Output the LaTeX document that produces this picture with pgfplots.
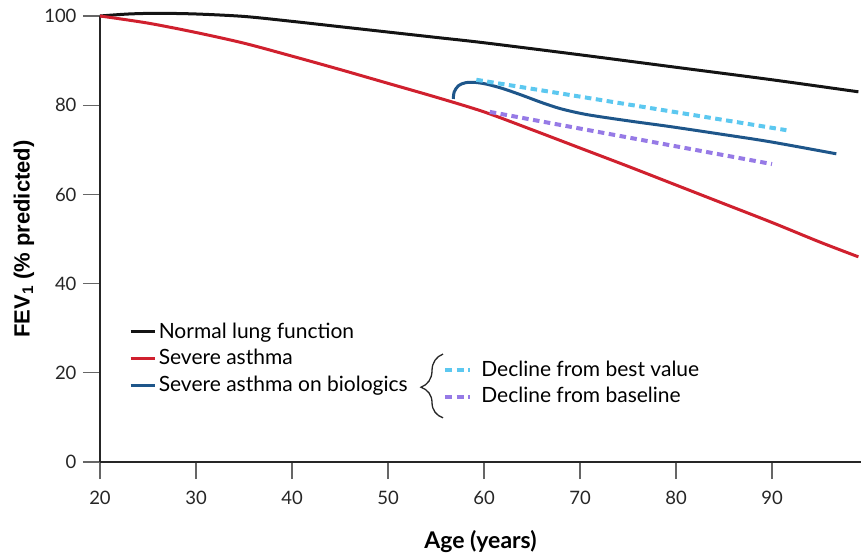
\documentclass[border=0pt]{standalone}
\usepackage{fontspec}
\setmainfont{Lato}
\newfontfamily\ylabfont{Liberation Sans}
\usepackage{pgfplots}
\pgfplotsset{compat=1.18}
\usetikzlibrary{decorations.pathreplacing}

\definecolor{NormalBlack}{RGB}{20,20,20}
\definecolor{AsthmaRed}{RGB}{208,32,46}
\definecolor{BioBlue}{RGB}{30,86,138}
\definecolor{BestBlue}{RGB}{92,200,240}
\definecolor{BasePurple}{RGB}{150,122,230}

\newcommand{\legfont}{\fontsize{21}{24}\selectfont}

\begin{document}
\begin{tikzpicture}
  \begin{axis}[
      name=ax,
      scale only axis,
      width=761pt, height=446pt,
      xmin=20, xmax=99.27,
      ymin=0, ymax=100,
      clip=false,
      axis x line*=bottom,
      axis y line*=left,
      axis line style={line width=2.6pt, black!85, -},
      xtick={20,30,...,90},
      ytick={0,20,...,100},
      tick align=outside,
      major tick length=17pt,
      tick style={line width=1.2pt, black!60},
      ticklabel style={font=\fontsize{18.5}{20}\selectfont, text=black!85},
      xticklabel style={yshift=-9pt},
      yticklabel style={xshift=-3pt},
      /pgf/number format/assume math mode=true,
      xlabel={Age (years)},
      ylabel={FEV\textsubscript{1} (\% predicted)},
      xlabel style={at={(axis description cs:0.5,-0.179)}, anchor=center,
                    font=\fontsize{23}{26}\selectfont\bfseries},
      ylabel style={at={(axis description cs:-0.1,0.5)}, anchor=center,
                    font=\ylabfont\fontsize{22}{25}\selectfont\bfseries},
    ]
    % normal lung function
    \addplot[NormalBlack, line width=3pt, smooth] coordinates {
      (20,100) (23,100.45) (26,100.6) (30,100.45) (35,99.9) (40,98.8) (45,97.6)
      (50,96.4) (55,95.2) (60,94.0) (70,91.3) (80,88.5) (90,85.7) (99,83.0)};
    % severe asthma
    \addplot[AsthmaRed, line width=3pt, smooth] coordinates {
      (20,100) (25,98.4) (30,96.3) (35,93.9) (40,91.0) (45,88.0) (50,84.9)
      (55,81.8) (60,78.5) (65,74.5) (70,70.4) (75,66.3) (80,62.1) (85,57.9)
      (90,53.7) (95,49.3) (99,46.0)};
    % severe asthma on biologics
    \addplot[BioBlue, line width=3pt, smooth] coordinates {
      (56.8,81.4) (56.9,83.0) (57.35,84.4) (58.1,85.05) (59.1,85.1) (60.3,84.7)
      (62,83.7) (64,82.2) (66,80.6) (68,79.2) (70.7,77.9) (75,76.5) (79.4,75.2)
      (85,73.4) (89.8,71.8) (96.7,69.1)};
    % declines
    \addplot[BestBlue, line width=4pt, dash pattern=on 6.5pt off 4.5pt] coordinates {
      (59.2,85.7) (91.5,74.4)};
    \addplot[BasePurple, line width=4pt, dash pattern=on 6.5pt off 4.5pt] coordinates {
      (60.6,78.5) (90,66.8)};

    % legend
    \draw[NormalBlack, line width=3pt] (axis cs:23.19,29.37) -- (axis cs:25.73,29.37);
    \draw[AsthmaRed, line width=3pt] (axis cs:23.19,23.25) -- (axis cs:25.73,23.25);
    \draw[BioBlue, line width=3pt] (axis cs:23.19,17.26) -- (axis cs:25.73,17.26);
    \node[anchor=base west, inner sep=0pt, font=\legfont] at (axis cs:26.1,27.7) {Normal lung function};
    \node[anchor=base west, inner sep=0pt, font=\legfont] at (axis cs:26.1,21.75) {Severe asthma};
    \node[anchor=base west, inner sep=0pt, font=\legfont] at (axis cs:26.1,15.9) {Severe asthma on biologics};
    \draw[line width=1.3pt, black!85, decorate, decoration={brace, amplitude=22pt, aspect=0.48}]
      (axis cs:55.73,9.9) -- (axis cs:55.73,24.2);
    \draw[BestBlue, line width=4pt, dash pattern=on 7pt off 4.5pt] (axis cs:55.94,20.63) -- (axis cs:58.54,20.63);
    \draw[BasePurple, line width=4pt, dash pattern=on 7pt off 4.5pt] (axis cs:55.94,14.64) -- (axis cs:58.54,14.64);
    \node[anchor=base west, inner sep=0pt, font=\legfont] at (axis cs:59.7,19.28) {Decline from best value};
    \node[anchor=base west, inner sep=0pt, font=\legfont] at (axis cs:59.7,13.3) {Decline from baseline};
  \end{axis}
  \pgfresetboundingbox
  \path ([xshift=-100pt,yshift=-96pt]ax.south west) rectangle ([yshift=16pt]ax.north east);
\end{tikzpicture}
\end{document}
